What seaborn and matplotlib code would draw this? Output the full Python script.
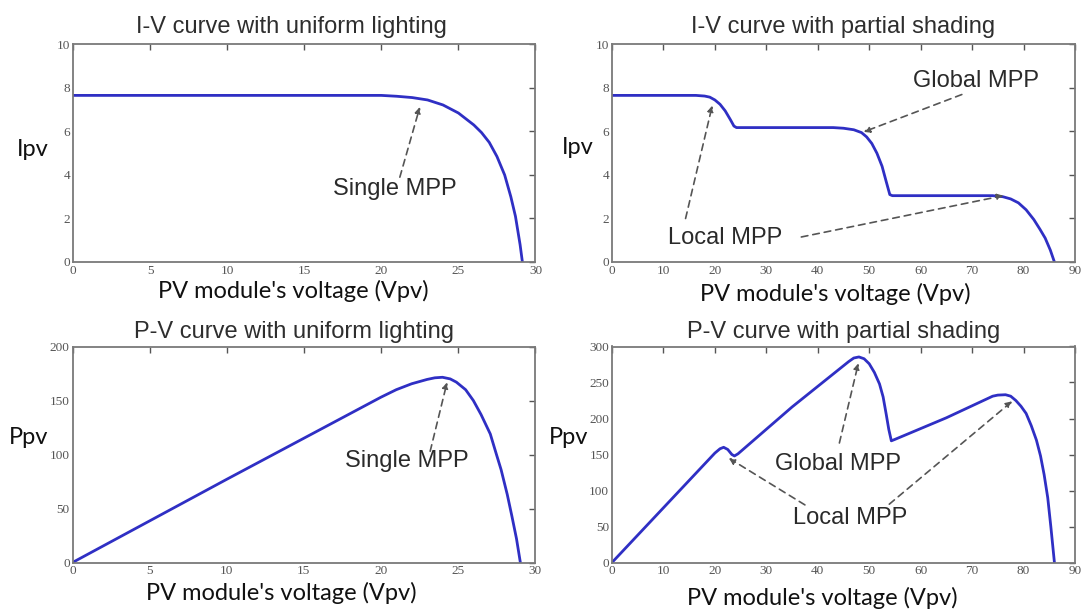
import matplotlib
matplotlib.use("Agg")
import matplotlib.pyplot as plt
import seaborn as sns
import pandas as pd

# ---------------- data ----------------
iv_uni_v = [0, 5, 10, 15, 20, 21, 22, 23, 24, 25, 26, 26.5, 27, 27.5, 28, 28.4, 28.7, 29.0, 29.15]
iv_uni_i = [7.66, 7.66, 7.66, 7.66, 7.66, 7.62, 7.56, 7.45, 7.22, 6.85, 6.3, 5.95, 5.5, 4.85,
            4.0, 3.0, 2.1, 0.8, 0.0]

pv_uni_v = [0, 5, 10, 15, 20, 21, 22, 23, 23.5, 24, 24.5, 24.9, 25.5, 26.0, 26.5, 27.1,
            27.5, 27.8, 28.2, 28.5, 28.8, 29.05]
pv_uni_p = [0, 38.5, 77, 115, 153, 160, 165.5, 169.5, 171, 171.5, 170, 167, 160, 150, 137,
            119, 100, 86, 63, 43, 22, 0]

iv_ps_v = [0, 10, 16.3, 18, 19, 20, 21, 22, 23, 23.7, 24.2, 30, 43, 45, 47, 48.5, 49.5,
           50.5, 51.5, 52.5, 53.3, 54, 54.5, 60, 74, 76, 77.5, 79, 80.5, 82, 83.2, 84.2,
           85.2, 86]
iv_ps_i = [7.66, 7.66, 7.66, 7.63, 7.58, 7.45, 7.25, 6.95, 6.55, 6.25, 6.18, 6.18, 6.18,
           6.15, 6.08, 5.95, 5.75, 5.45, 5.0, 4.4, 3.7, 3.1, 3.05, 3.05, 3.05, 3.0, 2.9,
           2.72, 2.4, 1.95, 1.5, 1.1, 0.55, 0.0]

pv_ps_v = [0, 10, 20, 21, 21.7, 22.5, 23.3, 23.8, 24.5, 35, 46, 47, 48, 49, 50, 51, 52,
           52.7, 53.3, 53.8, 54.3, 55, 65, 74, 75, 76.5, 77.5, 78.5, 79.5, 80.5, 81.5,
           82.5, 83.3, 84, 84.7, 85.3, 86]
pv_ps_p = [0, 76, 152, 158, 160, 157, 150, 148, 151, 216, 279, 284, 285.5, 283, 276, 264,
           248, 230, 206, 185, 169, 171, 201, 231, 232.5, 233, 231, 225, 217, 207, 190,
           170, 148, 122, 90, 50, 0]

titles = ["I-V curve with uniform lighting", "I-V curve with partial shading",
          "P-V curve with uniform lighting", "P-V curve with partial shading"]
ylabels = ["Ipv", "Ipv", "Ppv", "Ppv"]
xlabel = "PV module's voltage (Vpv)"

# ---------------- style ----------------
sns.set_style("white")
plt.rcParams["font.family"] = ["Liberation Sans", "DejaVu Sans"]

LINE = "#2f2fc4"
FRAME = "#7a7a7a"

fig = plt.figure(figsize=(10.83, 6.09), dpi=100)
W, H = 1083, 609

def mk_axes(l, t, r, b):
    return fig.add_axes([l / W, 1 - b / H, (r - l) / W, (b - t) / H])

ax_tl = mk_axes(73, 44.5, 535.5, 262)
ax_tr = mk_axes(612, 44.5, 1075, 262)
ax_bl = mk_axes(72.5, 346.5, 535, 562.5)
ax_br = mk_axes(612, 346.5, 1075, 562.5)

axes = [ax_tl, ax_tr, ax_bl, ax_br]
series = [(iv_uni_v, iv_uni_i), (iv_ps_v, iv_ps_i), (pv_uni_v, pv_uni_p), (pv_ps_v, pv_ps_p)]
xlims = [(0, 30), (0, 90), (0, 30), (0, 90)]
ylims = [(0, 10), (0, 10), (0, 200), (0, 300)]
xticks = [list(range(0, 31, 5)), list(range(0, 91, 10)), list(range(0, 31, 5)), list(range(0, 91, 10))]
yticks = [list(range(0, 11, 2)), list(range(0, 11, 2)), list(range(0, 201, 50)), list(range(0, 301, 50))]
xlab_pos = [(293, 291), (835, 294), (281, 593), (822, 598)]
ylab_pos = [(33, 150), (578, 147), (29, 438), (569, 438)]
title_x = [0.473, 0.50, 0.478, 0.50]

for k, ax in enumerate(axes):
    xs, ys = series[k]
    df = pd.DataFrame({"v": xs, "y": ys})
    sns.lineplot(data=df, x="v", y="y", ax=ax, color=LINE, lw=2.0, estimator=None)
    ax.set_xlim(*xlims[k])
    ax.set_ylim(*ylims[k])
    ax.set_xticks(xticks[k])
    ax.set_yticks(yticks[k])
    ax.tick_params(direction="in", length=4, width=1, color="#555555", top=True, right=True,
                   labelsize=9.5, labelcolor="#555555", pad=2)
    for lab in ax.get_xticklabels() + ax.get_yticklabels():
        lab.set_family("Liberation Serif")
    for sp in ax.spines.values():
        sp.set_color(FRAME)
        sp.set_linewidth(1.3)
    ax.set_xlabel("")
    ax.set_ylabel("")
    ax.set_title(titles[k], fontsize=17, color="#2e2e2e", pad=8 if k < 2 else 6, x=title_x[k])
    lx, ly = xlab_pos[k]
    fig.text(lx / W, 1 - ly / H, xlabel, ha="center", va="center", fontsize=17,
             family="Lato", color="#111111")
    yx, yy = ylab_pos[k]
    fig.text(yx / W, 1 - yy / H, ylabels[k], ha="center", va="center", fontsize=17,
             family="Lato", color="#111111")

arrow_kw = dict(arrowstyle="-|>", linestyle=(0, (4, 3)), color="#555555", lw=1.2,
                mutation_scale=9, shrinkA=0, shrinkB=0)

def note(ax, text, tx, ty):
    ax.text(tx, ty, text, ha="center", va="center", fontsize=17, color="#2a2a2a")

def arrow(ax, start, end):
    ax.annotate("", xy=end, xytext=start, arrowprops=arrow_kw)

# top-left
note(ax_tl, "Single MPP", 20.9, 3.36)
arrow(ax_tl, (21.2, 3.9), (22.5, 7.13))
# top-right
note(ax_tr, "Global MPP", 70.7, 8.3)
arrow(ax_tr, (68, 7.7), (48.9, 5.98))
note(ax_tr, "Local MPP", 22.0, 1.1)
arrow(ax_tr, (14.3, 2.0), (19.5, 7.2))
arrow(ax_tr, (36.8, 1.15), (76.1, 3.05))
# bottom-left
note(ax_bl, "Single MPP", 21.7, 93.8)
arrow(ax_bl, (23.2, 103), (24.3, 167))
# bottom-right
note(ax_br, "Global MPP", 43.9, 137)
arrow(ax_br, (44.2, 166), (47.9, 277))
note(ax_br, "Local MPP", 46.2, 61.5)
arrow(ax_br, (37.5, 80), (22.7, 145))
arrow(ax_br, (53.9, 81), (77.8, 224))

fig.savefig("out.png", dpi=100, facecolor="white")
